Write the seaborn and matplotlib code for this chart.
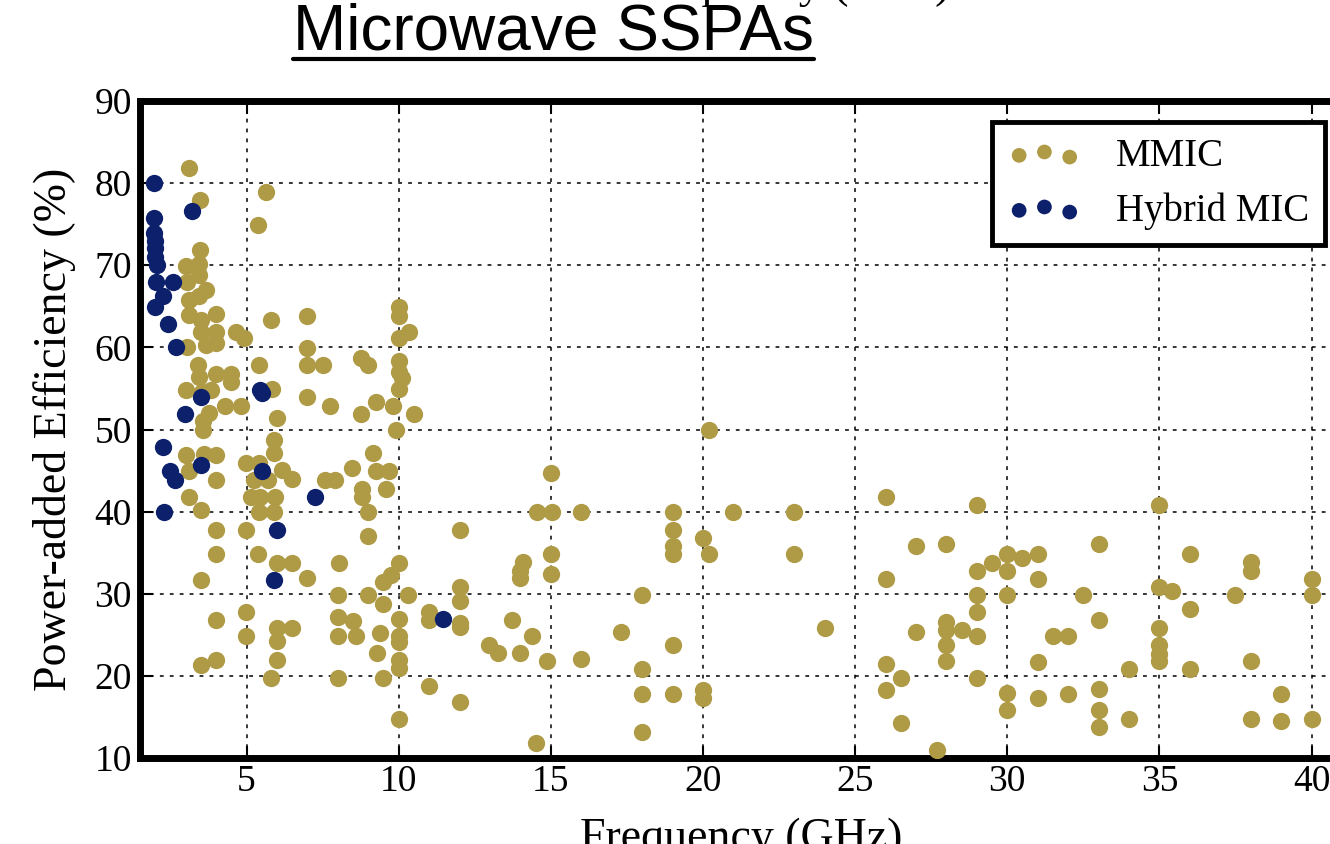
import matplotlib
matplotlib.use("Agg")
import matplotlib.pyplot as plt
import seaborn as sns
import pandas as pd
from matplotlib.lines import Line2D

# ---------------- data ----------------
series_names = ["MMIC", "Hybrid MIC"]

mmic_freq = [
    3.10, 3.47, 5.64, 5.39, 3.48, 3.01, 3.45, 3.45, 3.06, 3.67, 3.12, 3.45, 3.12, 3.50, 4.00, 3.50, 4.00,
    4.65, 4.93, 5.80, 3.03, 3.67, 4.00,
    3.39, 4.00, 4.49, 4.49, 5.40, 3.01, 3.45, 3.55, 3.83, 5.83, 4.30, 4.82, 3.78, 3.56, 3.58, 5.99,
    3.01, 3.61, 4.00, 3.12, 4.00, 4.98, 5.40, 5.91, 5.91, 6.18, 6.51, 5.25, 5.70, 5.15, 5.45, 5.94,
    3.10, 3.50, 5.40, 5.90,
    4.00, 4.98, 4.00, 5.39, 6.00, 6.49, 3.50, 4.98, 4.00, 4.98, 6.00, 6.49, 6.00, 4.00, 3.50, 6.00, 5.80,
    7.00, 10.0, 10.0, 10.34, 10.0, 7.00, 7.00, 7.50, 8.76, 9.00, 10.0, 10.0, 10.12, 10.0, 7.00, 7.74,
    8.76, 9.27, 9.80, 10.49, 9.90, 9.17, 8.48, 9.27, 9.69, 7.59, 7.91, 8.79, 8.79, 9.58, 9.00, 9.00,
    8.05, 7.00, 10.0, 9.74, 9.50, 8.00, 9.00, 10.30, 9.50, 8.00, 8.50, 10.0, 11.0, 11.0, 8.00, 8.59,
    9.38, 10.0, 10.0, 9.30, 10.0, 10.0, 8.00, 9.50, 11.0, 10.0,
    20.2, 15.0, 14.56, 15.03, 16.0, 19.0, 21.0, 23.0, 12.0, 19.0, 20.0, 19.0, 19.0, 20.2, 23.0, 15.0,
    14.09, 14.0, 14.0, 15.0, 18.0, 12.0, 12.0, 12.0, 12.0, 13.74, 12.97, 13.25, 14.0, 14.37, 14.89,
    16.0, 17.3, 19.0, 24.0, 18.0, 18.0, 19.0, 20.0, 20.0, 12.0, 14.5, 18.0,
    26.0, 29.0, 35.0, 27.0, 28.0, 33.0, 30.0, 30.5, 31.0, 29.5, 29.0, 30.0, 26.0, 31.0, 36.0, 38.0,
    38.0, 40.0, 35.0, 35.4, 37.5, 40.0, 29.0, 30.0, 32.5, 29.0, 36.0, 27.0, 28.0, 28.0, 28.5, 28.0,
    29.0, 31.5, 32.0, 33.0, 35.0, 35.0, 35.0, 35.0, 28.0, 26.0, 31.0, 34.0, 36.0, 38.0, 26.5, 29.0,
    26.0, 30.0, 30.0, 31.0, 32.0, 33.0, 33.0, 33.0, 34.0, 39.0, 38.0, 39.0, 40.0, 26.5, 27.7,
]
mmic_pae = [
    81.9, 77.9, 78.9, 74.9, 71.9, 69.9, 70.1, 68.8, 68.0, 67.0, 65.8, 66.2, 63.9, 63.3, 64.1, 61.9, 61.9,
    61.9, 61.1, 63.3, 60.0, 60.3, 60.5,
    57.8, 56.8, 56.8, 55.8, 57.8, 54.8, 56.4, 54.6, 54.8, 54.9, 52.9, 52.9, 52.0, 51.0, 49.9, 51.4,
    46.9, 47.0, 46.9, 44.9, 43.8, 45.9, 45.9, 48.7, 47.1, 45.1, 44.0, 43.8, 43.8, 41.8, 41.8, 41.8,
    41.8, 40.2, 40.0, 39.9,
    37.8, 37.8, 34.8, 34.8, 33.8, 33.8, 31.7, 27.8, 26.8, 24.8, 25.8, 25.8, 24.3, 21.9, 21.3, 21.9, 19.8,
    63.8, 64.9, 63.8, 61.9, 61.1, 59.9, 57.8, 57.8, 58.7, 57.8, 58.3, 57.0, 56.3, 54.9, 53.9, 52.9,
    51.9, 53.3, 52.9, 51.9, 49.9, 47.1, 45.3, 44.9, 44.9, 43.8, 43.8, 42.7, 41.8, 42.8, 40.0, 37.0,
    33.8, 31.9, 33.7, 32.3, 31.4, 29.9, 29.9, 29.9, 28.8, 27.2, 26.7, 26.9, 27.8, 26.8, 24.8, 24.8,
    25.2, 24.8, 24.1, 22.8, 21.9, 20.9, 19.8, 19.8, 18.8, 14.8,
    49.9, 44.7, 39.9, 39.9, 39.9, 39.9, 39.9, 39.9, 37.8, 37.8, 36.8, 35.8, 34.8, 34.8, 34.8, 34.8,
    33.9, 32.8, 31.9, 32.4, 29.8, 30.8, 29.1, 26.4, 25.9, 26.8, 23.8, 22.8, 22.8, 24.8, 21.8,
    22.0, 25.4, 23.8, 25.8, 20.8, 17.8, 17.8, 18.3, 17.3, 16.8, 11.8, 13.2,
    41.8, 40.8, 40.8, 35.8, 36.0, 36.0, 34.9, 34.4, 34.9, 33.8, 32.8, 32.8, 31.8, 31.8, 34.8, 33.9,
    32.8, 31.8, 30.8, 30.3, 29.8, 29.8, 29.8, 29.8, 29.8, 27.8, 28.1, 25.3, 26.5, 25.6, 25.6, 23.7,
    24.8, 24.8, 24.8, 26.8, 25.8, 23.7, 22.7, 21.8, 21.8, 21.5, 21.7, 20.8, 20.8, 21.8, 19.8, 19.8,
    18.3, 17.9, 15.9, 17.3, 17.8, 18.4, 15.8, 13.8, 14.8, 17.8, 14.8, 14.5, 14.8, 14.3, 11.0,
]

hybrid_freq = [1.97, 3.21, 1.97, 1.97, 2.00, 2.00, 2.00, 2.05, 2.04, 2.57, 2.24, 2.00, 2.41, 2.68,
               3.50, 5.44, 5.51, 2.99, 2.24, 2.48, 2.65, 3.50, 5.51, 2.28, 5.99, 5.91, 7.25, 11.46]
hybrid_pae = [80.0, 76.6, 75.8, 73.9, 72.9, 72.1, 71.0, 70.0, 68.0, 67.9, 66.2, 64.9, 62.9, 60.1,
              53.9, 54.8, 54.4, 51.9, 47.9, 44.9, 43.9, 45.7, 44.9, 39.9, 37.8, 31.7, 41.8, 26.9]

x_ticks = [5, 10, 15, 20, 25, 30, 35, 40]
y_ticks = [10, 20, 30, 40, 50, 60, 70, 80, 90]

GOLD = "#AF9A46"
NAVY = "#0C206B"

# ---------------- style ----------------
sns.set_style("white")
plt.rcParams['font.family'] = ['Liberation Serif', 'DejaVu Serif']
for key in ["text.color", "axes.labelcolor", "xtick.color", "ytick.color", "axes.edgecolor"]:
    plt.rcParams[key] = "black"

W, H = 1330, 844
fig = plt.figure(figsize=(W / 100, H / 100), dpi=100)
ax = fig.add_axes([140 / W, 1 - 758 / H, 1202 / W, 657 / H])

df_m = pd.DataFrame({"freq": mmic_freq, "pae": mmic_pae})
df_h = pd.DataFrame({"freq": hybrid_freq, "pae": hybrid_pae})

sns.scatterplot(data=df_m, x="freq", y="pae", color=GOLD, s=155, linewidth=0,
                label=series_names[0], ax=ax, zorder=3)
sns.scatterplot(data=df_h, x="freq", y="pae", color=NAVY, s=155, linewidth=0,
                label=series_names[1], ax=ax, zorder=4)

ax.set_xlim(1.5, 41)
ax.set_ylim(10, 90)
ax.set_xticks(x_ticks)
ax.set_yticks(y_ticks)

ax.grid(True, color="black", linestyle=(0, (2.5, 4)), linewidth=1.1)
ax.set_axisbelow(True)

for sp in ax.spines.values():
    sp.set_visible(True)
    sp.set_color("black")
    sp.set_linewidth(5)

ax.tick_params(axis="both", which="major", direction="in", length=9, width=1.5,
               top=True, right=True, bottom=True, left=True, labelsize=27, colors="black")
ax.tick_params(axis="x", pad=5)
ax.tick_params(axis="y", pad=6)

ax.set_xlabel("Frequency (GHz)", fontsize=33, color="black")
ax.set_ylabel("Power-added Efficiency (%)", fontsize=33, color="black")
ax.xaxis.set_label_coords(0.5, -0.091)
ax.yaxis.set_label_coords(-0.053, 0.5)

leg = ax.legend(loc="upper right", bbox_to_anchor=(0.986, 0.968), scatterpoints=3,
                scatteryoffsets=[0.375, 0.5, 0.3125], fancybox=False, frameon=True,
                edgecolor="black", framealpha=1, fontsize=28, borderpad=0.4,
                handlelength=1.9, handletextpad=0.9, labelspacing=0.45,
                markerscale=0.85, borderaxespad=0)
leg.get_frame().set_linewidth(3.5)
for t in leg.get_texts():
    t.set_color("black")

# title and the clipped heading above it
title = fig.text(293 / W, 1 - 50 / H, "Microwave SSPAs", fontfamily="Liberation Sans",
                 fontsize=46, ha="left", va="baseline", color="black")
fig.text(789 / W, 1 + 3.5 / H, "Frequency (GHz)", fontsize=33, ha="center", va="baseline",
         color="black")

fig.canvas.draw()
bb = title.get_window_extent(fig.canvas.get_renderer())
x0, x1 = bb.x0 / fig.bbox.width, bb.x1 / fig.bbox.width
fig.add_artist(Line2D([x0, x1], [1 - 59 / H, 1 - 59 / H], transform=fig.transFigure,
                      color="black", linewidth=3))

fig.savefig("out.png", dpi=100)
